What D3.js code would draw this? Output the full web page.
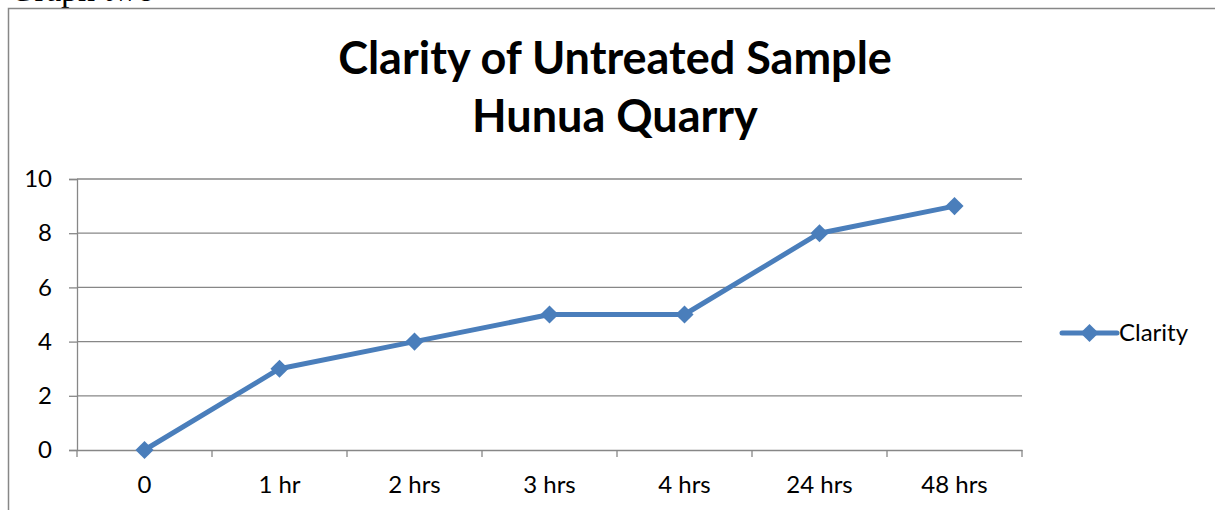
<!DOCTYPE html>
<html>
<head>
<meta charset="utf-8">
<title>Clarity of Untreated Sample</title>
<script src="https://d3js.org/d3.v7.min.js"></script>
<style>
    body { margin: 0; background: #fff; }
    svg { display: block; }
</style>
</head>
<body>
<div id="chart"></div>
<script>
    // Data
    const categories = ['0', '1 hr', '2 hrs', '3 hrs', '4 hrs', '24 hrs', '48 hrs'];
    const clarity = [0, 3, 4, 5, 5, 8, 9];
    const yTicks = [0, 2, 4, 6, 8, 10];
    const seriesName = 'Clarity';

    const W = 1215, H = 510;
    const plot = { left: 77, right: 1022, top: 179, bottom: 450 };
    const grey = '#878787';
    const blue = '#4a7ebb';

    const svg = d3.select('#chart').append('svg')
        .attr('width', W)
        .attr('height', H);

    // caption of the page above the chart, mostly cut off
    svg.append('text')
        .attr('x', 10)
        .attr('y', 1)
        .style('font-family', '"Liberation Serif", serif')
        .style('font-size', '34px')
        .text('Graph two');

    // chart frame
    svg.append('rect')
        .attr('x', 8.5).attr('y', 8.5)
        .attr('width', 1220).attr('height', 520)
        .attr('fill', 'none')
        .attr('stroke', grey)
        .attr('stroke-width', 1.5);

    // titles
    svg.append('text')
        .attr('x', 615).attr('y', 74)
        .attr('text-anchor', 'middle')
        .style('font-family', 'Lato, sans-serif')
        .style('font-weight', 'bold')
        .style('font-size', '45px')
        .text('Clarity of Untreated Sample');

    svg.append('text')
        .attr('x', 615).attr('y', 132)
        .attr('text-anchor', 'middle')
        .style('font-family', 'Lato, sans-serif')
        .style('font-weight', 'bold')
        .style('font-size', '45px')
        .text('Hunua Quarry');

    // scales
    const x = d3.scaleBand()
        .domain(categories)
        .range([plot.left, plot.right]);

    const y = d3.scaleLinear()
        .domain([0, 10])
        .range([plot.bottom, plot.top]);

    // gridlines
    svg.append('g')
        .selectAll('line')
        .data(yTicks.filter(d => d > 0))
        .enter().append('line')
        .attr('x1', plot.left).attr('x2', plot.right)
        .attr('y1', d => y(d)).attr('y2', d => y(d))
        .attr('stroke', grey)
        .attr('stroke-width', 1.3);

    // y axis
    const yAxis = svg.append('g')
        .attr('transform', 'translate(' + plot.left + ',0)')
        .call(d3.axisLeft(y).tickValues(yTicks).tickSize(8).tickPadding(17));

    // x axis, ticks between categories
    const xAxis = svg.append('g')
        .attr('transform', 'translate(0,' + plot.bottom + ')')
        .call(d3.axisBottom(x).tickSize(0).tickPadding(26));

    xAxis.selectAll('.tick-mark')
        .data(d3.range(categories.length + 1))
        .enter().append('line')
        .attr('x1', i => plot.left + i * x.step())
        .attr('x2', i => plot.left + i * x.step())
        .attr('y1', 0).attr('y2', 7)
        .attr('stroke', grey)
        .attr('stroke-width', 1.3);

    [yAxis, xAxis].forEach(g => {
        g.select('.domain').attr('stroke', grey).attr('stroke-width', 1.3);
        g.selectAll('.tick line').attr('stroke', grey).attr('stroke-width', 1.3);
        g.selectAll('text')
            .attr('fill', '#000')
            .style('font-family', 'Lato, sans-serif')
            .style('font-size', '24px');
    });

    // line
    const line = d3.line()
        .x((d, i) => x(categories[i]) + x.bandwidth() / 2)
        .y(d => y(d));

    svg.append('path')
        .datum(clarity)
        .attr('d', line)
        .attr('fill', 'none')
        .attr('stroke', blue)
        .attr('stroke-width', 5)
        .attr('stroke-linejoin', 'round');

    const diamond = d3.symbol().type(d3.symbolDiamond2).size(210);

    svg.append('g')
        .selectAll('path')
        .data(clarity)
        .enter().append('path')
        .attr('d', diamond)
        .attr('transform', (d, i) => 'translate(' + (x(categories[i]) + x.bandwidth() / 2) + ',' + y(d) + ')')
        .attr('fill', blue);

    // legend
    const legend = svg.append('g').attr('transform', 'translate(1062,333)');
    legend.append('line')
        .attr('x1', 0).attr('x2', 55)
        .attr('stroke', blue)
        .attr('stroke-width', 5)
        .attr('stroke-linecap', 'round');
    legend.append('path')
        .attr('d', diamond)
        .attr('transform', 'translate(27.5,0)')
        .attr('fill', blue);
    legend.append('text')
        .attr('x', 57).attr('y', 8)
        .style('font-family', 'Lato, sans-serif')
        .style('font-size', '24px')
        .text(seriesName);
</script>
</body>
</html>
